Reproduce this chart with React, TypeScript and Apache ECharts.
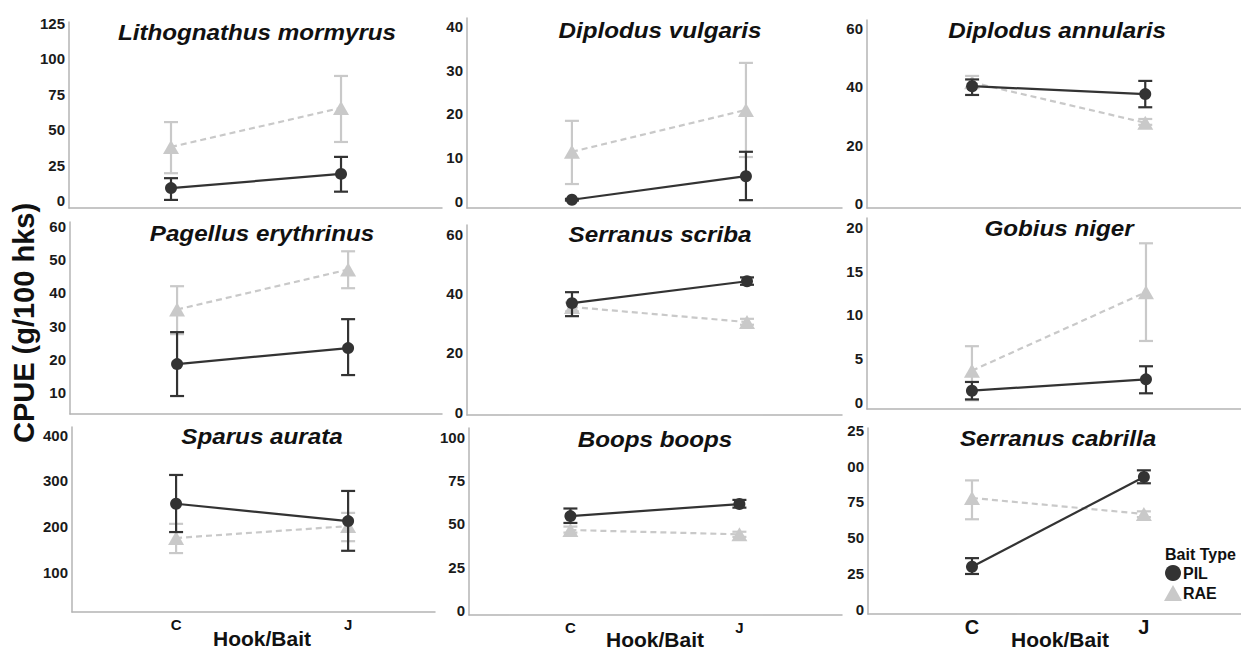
import React, { useEffect, useRef } from "react";
import * as echarts from "echarts";

const FONT = "'Liberation Sans', Arial, Helvetica, sans-serif";

// ---------- data ----------
const species = [
  "Lithognathus mormyrus",
  "Diplodus vulgaris",
  "Diplodus annularis",
  "Pagellus erythrinus",
  "Serranus scriba",
  "Gobius niger",
  "Sparus aurata",
  "Boops boops",
  "Serranus cabrilla",
];

const hookCategories = ["C", "J"];
const baitTypes = ["PIL", "RAE"];

// [C, J] per panel
const pilMean = [[9, 19], [0.3, 5.7], [40.2, 37.5], [18.6, 23.4], [36.8, 44.2], [1.3, 2.6], [250, 212], [54.6, 61.6], [30, 92.4]];
const pilLow = [[0.7, 6.5], [0.1, 0.2], [37.2, 33], [9, 15.3], [32.4, 43], [0.3, 1.0], [188, 147], [50.6, 59.5], [25, 88]];
const pilHigh = [[16, 31], [0.5, 11.3], [42.5, 42], [28.2, 32.1], [40.5, 45.5], [2.3, 4.1], [313, 278], [59, 64], [36, 97]];

const raeMean = [[38, 65.5], [11.3, 20.9], [41.5, 27.7], [35, 47], [35.5, 30.4], [3.6, 12.6], [175, 201], [46.5, 44], [77.8, 66.7]];
const raeLow = [[19.5, 41.5], [3.9, 10.1], [39.6, 27], [27.6, 41.4], [34, 29.5], [0.2, 7], [142, 168], [45, 42.5], [63, 64.5]];
const raeHigh = [[55.5, 88], [18.4, 31.7], [43.7, 29], [42, 52.5], [37, 31.5], [6.4, 18.2], [206, 230], [48.5, 45.5], [90, 68.5]];

const yTickValues = [
  [0, 25, 50, 75, 100, 125],
  [0, 10, 20, 30, 40],
  [0, 20, 40, 60],
  [10, 20, 30, 40, 50, 60],
  [0, 20, 40, 60],
  [0, 5, 10, 15, 20],
  [100, 200, 300, 400],
  [0, 25, 50, 75, 100],
  [0, 25, 50, 75, 100, 125],
];
const yTickLabels = [
  ["0", "25", "50", "75", "100", "125"],
  ["0", "10", "20", "30", "40"],
  ["0", "20", "40", "60"],
  ["10", "20", "30", "40", "50", "60"],
  ["0", "20", "40", "60"],
  ["0", "5", "10", "15", "20"],
  ["100", "200", "300", "400"],
  ["0", "25", "50", "75", "100"],
  ["0", "25", "50", "75", "00", "25"],
];

const yAxisTitle = "CPUE (g/100 hks)";
const xAxisTitle = "Hook/Bait";
const legendTitle = "Bait Type";

// ---------- layout ----------
const layout = [
  { left: 69, top: 22, width: 373, height: 186, ymin: -5, ymax: 126, xmin: -0.6, xmax: 1.594, tx: 257, ty: 32 },
  { left: 467, top: 18, width: 375, height: 190, ymin: -1.6, ymax: 42, xmin: -0.603, xmax: 1.552, tx: 660, ty: 30 },
  { left: 867, top: 20, width: 374, height: 188, ymin: -1.4, ymax: 62.8, xmin: -0.607, xmax: 1.553, tx: 1057, ty: 30 },
  { left: 70, top: 222, width: 372, height: 192, ymin: 3.6, ymax: 61.3, xmin: -0.626, xmax: 1.549, tx: 262, ty: 233 },
  { left: 467, top: 225, width: 375, height: 190, ymin: -1, ymax: 63.2, xmin: -0.6, xmax: 1.543, tx: 660, ty: 234 },
  { left: 867, top: 218, width: 374, height: 191, ymin: -0.8, ymax: 21.1, xmin: -0.603, xmax: 1.546, tx: 1059, ty: 228 },
  { left: 72, top: 427, width: 363, height: 185, ymin: 13, ymax: 418, xmin: -0.605, xmax: 1.505, tx: 262, ty: 436 },
  { left: 469, top: 428, width: 373, height: 187, ymin: -2.9, ymax: 105.8, xmin: -0.6, xmax: 1.607, tx: 655, ty: 439 },
  { left: 868, top: 428, width: 373, height: 186, ymin: -2.8, ymax: 126.4, xmin: -0.605, xmax: 1.565, tx: 1058, ty: 438 },
];

const DARK = "#333333";
const LIGHT = "#c9c9c9";
const AXIS = "#b4b4b4";

function errorBarRender(color: string) {
  return (params: any, api: any) => {
    const x = api.value(0);
    const lo = api.value(1);
    const hi = api.value(2);
    const p1 = api.coord([x, lo]);
    const p2 = api.coord([x, hi]);
    const hw = 7;
    const style = { stroke: color, lineWidth: 2.2, fill: "none" };
    return {
      type: "group",
      children: [
        { type: "line", shape: { x1: p1[0], y1: p1[1], x2: p2[0], y2: p2[1] }, style },
        { type: "line", shape: { x1: p1[0] - hw, y1: p1[1], x2: p1[0] + hw, y2: p1[1] }, style },
        { type: "line", shape: { x1: p2[0] - hw, y1: p2[1], x2: p2[0] + hw, y2: p2[1] }, style },
      ],
    };
  };
}

function buildOption() {
  const grid = layout.map((g) => ({ left: g.left, top: g.top, width: g.width, height: g.height, containLabel: false }));
  const xAxis = layout.map((g, i) => ({
    type: "value",
    gridIndex: i,
    min: g.xmin,
    max: g.xmax,
    axisLine: { show: true, onZero: false, lineStyle: { color: AXIS, width: 1.5 } },
    axisTick: { show: false },
    splitLine: { show: false },
    axisLabel:
      i >= 6
        ? {
            show: true,
            customValues: [0, 1],
            formatter: (v: number) => hookCategories[Math.round(v)],
            fontFamily: FONT,
            fontWeight: "bold",
            fontSize: i === 8 ? 20 : 15,
            color: "#111",
            margin: i === 8 ? 3 : 5,
          }
        : { show: false },
  }));
  const yAxis = layout.map((g, i) => ({
    type: "value",
    gridIndex: i,
    min: g.ymin,
    max: g.ymax,
    axisLine: { show: true, onZero: false, lineStyle: { color: AXIS, width: 1.5 } },
    axisTick: { show: false },
    splitLine: { show: false },
    axisLabel: {
      show: true,
      customValues: yTickValues[i],
      formatter: (v: number) => {
        const k = yTickValues[i].findIndex((t) => Math.abs(t - v) < 1e-6);
        return k >= 0 ? yTickLabels[i][k] : "";
      },
      fontFamily: FONT,
      fontWeight: "bold",
      fontSize: 15,
      color: "#1a1a1a",
      margin: 4,
    },
  }));

  const series: any[] = [];
  layout.forEach((g, i) => {
    series.push({
      type: "custom",
      name: "RAE err",
      xAxisIndex: i,
      yAxisIndex: i,
      renderItem: errorBarRender(LIGHT),
      encode: { x: 0, y: [1, 2] },
      data: [0, 1].map((k) => [k, raeLow[i][k], raeHigh[i][k]]),
      z: 2,
      silent: true,
    });
    series.push({
      type: "line",
      name: baitTypes[1],
      xAxisIndex: i,
      yAxisIndex: i,
      data: [0, 1].map((k) => [k, raeMean[i][k]]),
      symbol: "triangle",
      symbolSize: [16, 14],
      itemStyle: { color: LIGHT },
      lineStyle: { color: LIGHT, width: 2.2, type: [6, 4] },
      z: 3,
    });
    series.push({
      type: "custom",
      name: "PIL err",
      xAxisIndex: i,
      yAxisIndex: i,
      renderItem: errorBarRender(DARK),
      encode: { x: 0, y: [1, 2] },
      data: [0, 1].map((k) => [k, pilLow[i][k], pilHigh[i][k]]),
      z: 4,
      silent: true,
    });
    series.push({
      type: "line",
      name: baitTypes[0],
      xAxisIndex: i,
      yAxisIndex: i,
      data: [0, 1].map((k) => [k, pilMean[i][k]]),
      symbol: "circle",
      symbolSize: 12,
      itemStyle: { color: DARK },
      lineStyle: { color: DARK, width: 2.2 },
      z: 5,
    });
  });

  const graphic: any[] = [];
  layout.forEach((g, i) => {
    graphic.push({
      type: "text",
      x: g.tx,
      y: g.ty,
      scaleX: 1.1,
      style: {
        text: species[i],
        fontFamily: FONT,
        fontSize: 22,
        fontWeight: "bold",
        fontStyle: "italic",
        fill: "#111",
        align: "center",
        verticalAlign: "middle",
      },
    });
  });
  graphic.push({
    type: "text",
    x: 24,
    y: 323,
    rotation: Math.PI / 2,
    style: {
      text: yAxisTitle,
      fontFamily: FONT,
      fontSize: 29,
      fontWeight: "bold",
      fill: "#111",
      align: "center",
      verticalAlign: "middle",
    },
  });
  [
    [262, 639],
    [655, 640],
    [1060, 640],
  ].forEach(([x, y]) => {
    graphic.push({
      type: "text",
      x,
      y,
      scaleX: 1.05,
      style: {
        text: xAxisTitle,
        fontFamily: FONT,
        fontSize: 20,
        fontWeight: "bold",
        fill: "#111",
        align: "center",
        verticalAlign: "middle",
      },
    });
  });
  graphic.push({
    type: "text",
    x: 1165,
    y: 554,
    style: {
      text: legendTitle,
      fontFamily: FONT,
      fontSize: 16,
      fontWeight: "bold",
      fill: "#111",
      align: "left",
      verticalAlign: "middle",
    },
  });

  return {
    animation: false,
    backgroundColor: "#ffffff",
    grid,
    xAxis,
    yAxis,
    series,
    graphic,
    legend: {
      show: true,
      orient: "vertical",
      left: 1164,
      top: 565,
      itemWidth: 18,
      itemHeight: 16,
      itemGap: 4,
      padding: 0,
      selectedMode: false,
      data: [
        { name: baitTypes[0], icon: "circle" },
        { name: baitTypes[1], icon: "triangle" },
      ],
      textStyle: { fontFamily: FONT, fontWeight: "bold", fontSize: 16, color: "#111", padding: [0, 0, 0, -4] },
    },
  };
}

export default function App() {
  const ref = useRef<HTMLDivElement>(null);
  useEffect(() => {
    document.body.style.margin = "0";
    if (!ref.current) return;
    const chart = echarts.init(ref.current, undefined, { renderer: "svg" });
    chart.setOption(buildOption() as any);
    return () => chart.dispose();
  }, []);
  return (
    <div
      ref={ref}
      style={{ position: "absolute", left: 0, top: 0, width: 1241, height: 652, background: "#fff" }}
    />
  );
}
